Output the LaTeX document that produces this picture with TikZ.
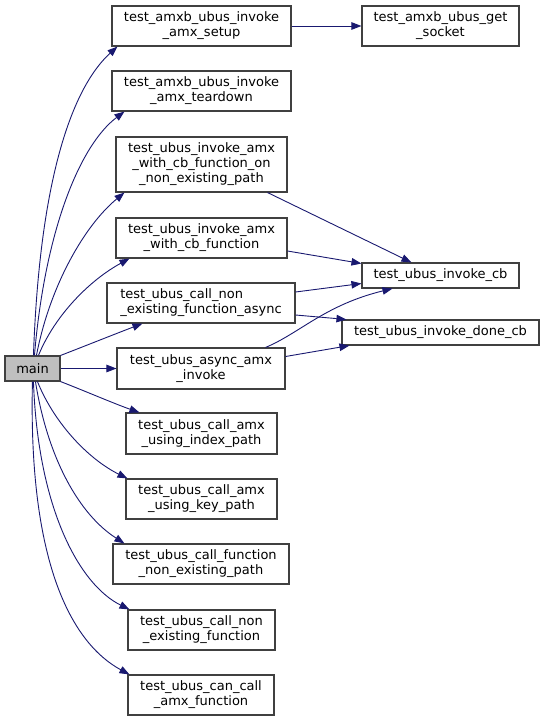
\documentclass[tikz,border=0pt]{standalone}
\usepackage{fontspec}
\setmainfont{DejaVu Sans}
\usetikzlibrary{arrows.meta,calc}
\definecolor{edgec}{HTML}{191970}
\definecolor{boxc}{HTML}{404040}
\definecolor{mainc}{HTML}{BFBFBF}
\begin{document}
\begin{tikzpicture}[x=1pt,y=-1pt,
  fn/.style={draw=boxc,line width=1.1pt,fill=white,inner sep=0pt,align=center,
    font=\fontsize{13}{15}\selectfont},
  edge/.style={draw=edgec,line width=0.9pt,-{Triangle[length=10pt,width=7.5pt]}}]
\useasboundingbox (0,0) rectangle (544,721);
\node[fn,minimum width=179pt,minimum height=40pt] (setup) at (201.5,26) {test\_amxb\_ubus\_invoke\\\_amx\_setup};
\node[fn,minimum width=179pt,minimum height=40pt] (teardown) at (201.5,91) {test\_amxb\_ubus\_invoke\\\_amx\_teardown};
\node[fn,minimum width=171pt,minimum height=55pt] (onpath) at (201.5,164.5) {test\_ubus\_invoke\_amx\\\_with\_cb\_function\_on\\\_non\_existing\_path};
\node[fn,minimum width=157pt,minimum height=40pt] (socket) at (440.5,26) {test\_amxb\_ubus\_get\\\_socket};
\node[fn,minimum width=171pt,minimum height=40pt] (withcb) at (201.5,238) {test\_ubus\_invoke\_amx\\\_with\_cb\_function};
\node[fn,minimum width=188pt,minimum height=40pt,align=left] (asyncne) at (201,303) {test\_ubus\_call\_non\\\_existing\_function\_async};
\node[fn,fill=mainc,minimum width=55pt,minimum height=25pt] (main) at (32.5,368.5) {main};
\node[fn,minimum width=168pt,minimum height=41pt] (asyncinv) at (201,368.5) {test\_ubus\_async\_amx\\\_invoke};
\node[fn,minimum width=157pt,minimum height=25pt] (invcb) at (440.5,275.5) {test\_ubus\_invoke\_cb};
\node[fn,minimum width=197pt,minimum height=25pt] (donecb) at (440.5,332.5) {test\_ubus\_invoke\_done\_cb};
\node[fn,minimum width=151pt,minimum height=41pt] (index) at (201.5,433.5) {test\_ubus\_call\_amx\\\_using\_index\_path};
\node[fn,minimum width=151pt,minimum height=40pt] (key) at (201.5,499) {test\_ubus\_call\_amx\\\_using\_key\_path};
\node[fn,minimum width=176pt,minimum height=40pt] (fnne) at (201,564) {test\_ubus\_call\_function\\\_non\_existing\_path};
\node[fn,minimum width=147pt,minimum height=40pt] (ne) at (201.5,630) {test\_ubus\_call\_non\\\_existing\_function};
\node[fn,minimum width=146pt,minimum height=40pt] (can) at (201,695) {test\_ubus\_can\_call\\\_amx\_function};
% main edges
\draw[edge] ($(main.north west)+(29,0)$) .. controls (40,170) and (75,85) .. ($(setup.south west)+(6,0)$);
\draw[edge] ($(main.north west)+(30,0)$) .. controls (45,230) and (80,145) .. ($(teardown.south west)+(13,0)$);
\draw[edge] ($(main.north west)+(32,0)$) .. controls (50,285) and (85,225) .. ($(onpath.south west)+(9,0)$);
\draw[edge] ($(main.north west)+(34,0)$) .. controls (55,315) and (90,280) .. ($(withcb.south west)+(14,0)$);
\draw[edge] (main.north east) .. controls (85,346) and (115,334) .. ($(asyncne.south west)+(36,0)$);
\draw[edge] (main.east) -- (asyncinv.west |- main.east);
\draw[edge] (main.south east) .. controls (85,391) and (115,404) .. ($(index.north west)+(14,0)$);
\draw[edge] ($(main.south west)+(33,0)$) .. controls (55,425) and (90,460) .. ($(key.north west)+(2,0)$);
\draw[edge] ($(main.south west)+(31,0)$) .. controls (48,460) and (80,515) .. ($(fnne.north west)+(12,0)$);
\draw[edge] ($(main.south west)+(29,0)$) .. controls (38,510) and (80,585) .. ($(ne.north west)+(2,0)$);
\draw[edge] ($(main.south west)+(28,0)$) .. controls (28,570) and (75,645) .. ($(can.north west)+(2,0)$);
% right edges
\draw[edge] (setup.east) -- (socket.west);
\draw[edge] ($(onpath.south east)+(-20,0)$) -- ($(invcb.north west)+(50,0)$);
\draw[edge] ($(withcb.east)+(0,13)$) -- ($(invcb.west)+(0,-12)$);
\draw[edge] ($(asyncne.east)+(0,-11)$) -- ($(invcb.west)+(0,8)$);
\draw[edge] ($(asyncne.east)+(0,12)$) -- ($(donecb.north west)+(5,0)$);
\draw[edge] ($(asyncinv.north east)+(-20,0)$) .. controls (300,333) and (325,305) .. ($(invcb.south west)+(31,0)$);
\draw[edge] ($(asyncinv.east)+(0,-12)$) -- ($(donecb.south west)+(8,0)$);
\end{tikzpicture}
\end{document}
